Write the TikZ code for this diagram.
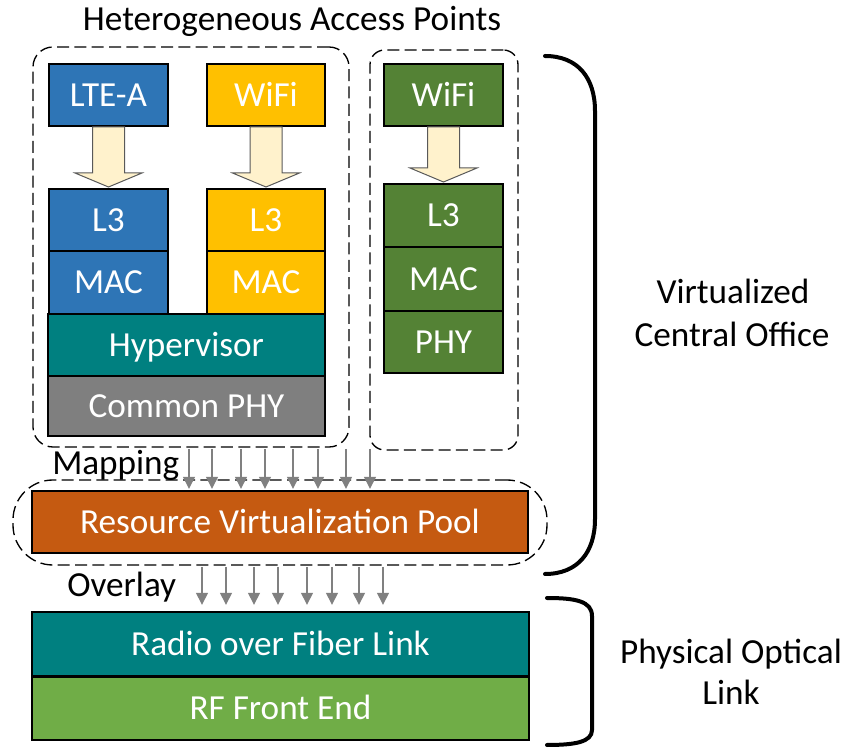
\documentclass[tikz,border=0pt]{standalone}
\usepackage{fontspec}
\setmainfont{Carlito}
\usetikzlibrary{fit,calc,arrows.meta}

\definecolor{lteblue}{HTML}{2E75B6}
\definecolor{wifiyellow}{HTML}{FFC000}
\definecolor{wifigreen}{HTML}{548235}
\definecolor{hyperteal}{HTML}{008080}
\definecolor{phygrey}{HTML}{7F7F7F}
\definecolor{poolorange}{HTML}{C55A11}
\definecolor{rfgreen}{HTML}{70AD47}
\definecolor{cream}{HTML}{FFF2CC}
\definecolor{arrowgrey}{HTML}{808080}

\begin{document}
\begin{tikzpicture}[x=0.75pt,y=-0.75pt,
  font=\fontsize{26.4pt}{32pt}\selectfont,
  layer/.style={draw=black, line width=1.5pt, inner sep=0pt,
    label={[layertext]center:#1}},
  layertext/.style={text=white, inner sep=0pt, text height=17pt, text depth=0pt},
  grp/.style={draw=black, line width=1pt, dash pattern=on 9pt off 4pt, inner sep=0pt},
  blockarrow/.style={fill=cream, draw=black!65, line width=0.75pt, line join=miter},
  flowarrow/.style={draw=arrowgrey, line width=2pt, -{Triangle[length=9pt,width=8.5pt]}},
  bracket/.style={line width=3pt, line cap=round}]

\useasboundingbox (0,0) rectangle (847,748);

% title
\node[inner sep=0pt, anchor=base] (title) at (292,31) {Heterogeneous Access Points};

% dashed groupings
\node[grp, rounded corners=15pt, fit={(33,47) (349,447)}] (hetgrp) {};
\node[grp, rounded corners=11pt, fit={(370,50) (518,450)}] (wifigrp) {};
\node[grp, rounded corners=30pt, fit={(13,480) (547,565)}] (poolgrp) {};

% LTE-A stack
\node[layer=LTE-A, fill=lteblue, fit={(49,64) (168,126)}] (lte) {};
\node[layer=L3, fill=lteblue, fit={(49,189) (168,251)}] (lteL3) {};
\node[layer=MAC, fill=lteblue, fit={(49,251) (168,314)}] (lteMAC) {};

% WiFi stack sharing the hypervisor
\node[layer=WiFi, fill=wifiyellow, fit={(207,64) (325,126)}] (wifiA) {};
\node[layer=L3, fill=wifiyellow, fit={(207,189) (325,251)}] (wifiAL3) {};
\node[layer=MAC, fill=wifiyellow, fit={(207,251) (325,314)}] (wifiAMAC) {};

% shared layers
\node[layer=Hypervisor, fill=hyperteal, fit={(48,314) (325,376)}] (hyper) {};
\node[layer=Common PHY, fill=phygrey, fit={(48,376) (325,436)}] (cphy) {};

% standalone WiFi stack
\node[layer=WiFi, fill=wifigreen, fit={(384,64) (503,126)}] (wifiB) {};
\node[layer=L3, fill=wifigreen, fit={(384,184) (503,247)}] (wifiBL3) {};
\node[layer=MAC, fill=wifigreen, fit={(384,247) (503,311)}] (wifiBMAC) {};
\node[layer=PHY, fill=wifigreen, fit={(384,311) (503,373)}] (wifiBPHY) {};

% block arrows from each access point to its L3
\foreach \src/\dst in {lte/lteL3, wifiA/wifiAL3, wifiB/wifiBL3}{
  \draw[blockarrow]
    ($(\src.south)+(-16,0)$) -- ($(\src.south)+(16,0)$)
    -- ($(\dst.north)+(16,-15)$) -- ($(\dst.north)+(33.5,-15)$)
    -- ($(\dst.north)+(0,-1)$)
    -- ($(\dst.north)+(-33.5,-15)$) -- ($(\dst.north)+(-16,-15)$) -- cycle;
}

% resource pool
\node[layer=Resource Virtualization Pool, fill=poolorange, fit={(32,491) (528,553)}] (pool) {};

% physical link layers
\node[layer=Radio over Fiber Link, fill=hyperteal, fit={(32,612) (529,676)}] (rof) {};
\node[layer=RF Front End, fill=rfgreen, fit={(32,677) (529,740)}] (rf) {};

% mapping arrows into the pool
\foreach \xx in {190,213,242,266,294,319,347,371}{
  \draw[flowarrow] ($(pool.north west)+(\xx-32,-41)$) -- ($(pool.north west)+(\xx-32,-1)$);
}
\node[inner sep=0pt, anchor=base west] (mapping) at (52,475) {Mapping};

% overlay arrows onto the fibre link
\foreach \xx in {203,227,255,279,308,333,360,384}{
  \draw[flowarrow] ($(rof.north west)+(\xx-32,-44)$) -- ($(rof.north west)+(\xx-32,-6)$);
}
\node[inner sep=0pt, anchor=base west] (overlay) at (67,597) {Overlay};

% brackets and their labels
\draw[bracket] (545,56) .. controls (578,56) and (595,78) .. (595,111)
  -- (595,519) .. controls (595,552) and (578,574) .. (545,574);
\node[inner sep=0pt, anchor=base] (vco1) at (733,304) {Virtualized};
\node[inner sep=0pt, anchor=base] (vco2) at (732,347) {Central Office};

\draw[bracket] (547,598) .. controls (575,598) and (592,601) .. (592,616)
  -- (592,730) .. controls (592,742) and (575,745) .. (547,745);
\node[inner sep=0pt, anchor=base] (pol1) at (731,663) {Physical Optical};
\node[inner sep=0pt, anchor=base] (pol2) at (731,705) {Link};

\end{tikzpicture}
\end{document}
